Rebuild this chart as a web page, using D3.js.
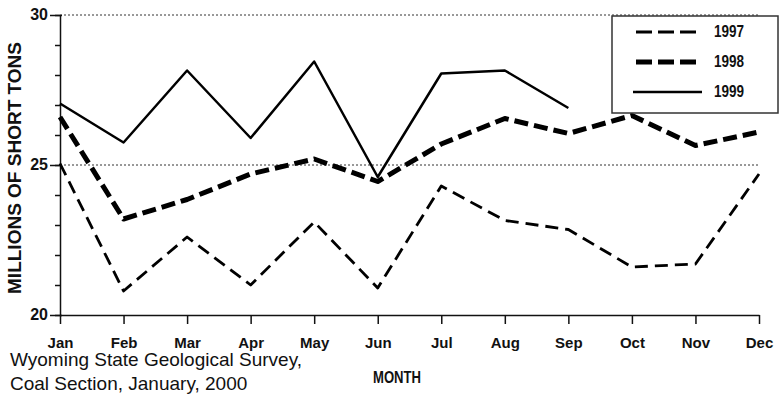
<!DOCTYPE html>
<html>
<head>
<meta charset="utf-8">
<script src="https://cdn.jsdelivr.net/npm/d3@7"></script>
<style>
	body { margin: 0; background: #fff; }
	svg { display: block; }
	.narrow { font-family: "Liberation Sans Narrow", "Arial Narrow", "Liberation Sans", Arial, sans-serif; font-weight: bold; }
</style>
</head>
<body>
<div id="chart"></div>
<script>
// coal production by month, millions of short tons
const months = ["Jan", "Feb", "Mar", "Apr", "May", "Jun", "Jul", "Aug", "Sep", "Oct", "Nov", "Dec"];
const tons_1997 = [25.05, 20.8, 22.6, 21.0, 23.1, 20.9, 24.3, 23.15, 22.85, 21.6, 21.7, 24.7];
const tons_1998 = [26.6, 23.2, 23.85, 24.7, 25.2, 24.45, 25.7, 26.55, 26.05, 26.65, 25.65, 26.1];
const tons_1999 = [27.05, 25.75, 28.15, 25.9, 28.45, 24.6, 28.05, 28.15, 26.9];
const years = ["1997", "1998", "1999"];
const y_major = [20, 25, 30];
const y_minor = d3.range(20, 31);

class coal_chart {

	constructor(opts) {
		this.element = opts.element;
		this.series = opts.series;
		this.width = 779;
		this.height = 394;
		this.styles = {
			"1997": {width: 2.8, dash: "13,7"},
			"1998": {width: 5, dash: "14,6"},
			"1999": {width: 2.5, dash: null}
		};
	}

	draw() {
		this.svg = d3.select(this.element)
						.append("svg")
						.attr("width", this.width)
						.attr("height", this.height)
						.attr("viewBox", `0 0 ${this.width} ${this.height}`);
		this.create_scales();
		this.create_grid();
		this.create_axes();
		this.create_lines();
		this.create_legend();
		this.create_labels();
	}

	create_scales() {
		this.x_scale = d3.scalePoint().domain(months).range([60, 759]);
		this.y_scale = d3.scaleLinear().domain([20, 30]).range([315, 15]);
	}

	create_grid() {
		this.svg.append("g")
				.selectAll("line")
				.data([25, 30])
				.enter()
				.append("line")
				.attr("x1", this.x_scale("Jan"))
				.attr("x2", this.x_scale("Dec"))
				.attr("y1", d => this.y_scale(d))
				.attr("y2", d => this.y_scale(d))
				.attr("stroke", "#333")
				.attr("stroke-width", 1)
				.attr("stroke-dasharray", "2,2");
	}

	create_axes() {
		// minor ticks every unit
		this.svg.append("g")
				.attr("transform", `translate(${this.x_scale("Jan")},0)`)
				.call(d3.axisLeft(this.y_scale).tickValues(y_minor).tickSize(5).tickSizeOuter(0).tickFormat(""))
				.call(g => g.selectAll("line, path").attr("stroke", "#111").attr("stroke-width", 1.5));

		this.y_axis = this.svg.append("g")
				.attr("transform", `translate(${this.x_scale("Jan")},0)`)
				.call(d3.axisLeft(this.y_scale).tickValues(y_major).tickSize(10).tickSizeOuter(0).tickPadding(2))
				.call(g => g.select(".domain").remove())
				.call(g => g.selectAll("line").attr("stroke", "#111").attr("stroke-width", 1.5).attr("x2", -10).attr("x1", 2));
		this.y_axis.selectAll("text")
				.attr("class", "narrow")
				.attr("font-family", null)
				.style("font-size", "16px")
				.attr("fill", "#111")
				.attr("dy", "0.25em");

		this.x_axis = this.svg.append("g")
				.attr("transform", `translate(0,${this.y_scale(20)})`)
				.call(d3.axisBottom(this.x_scale).tickSize(9).tickSizeOuter(0).tickPadding(13))
				.call(g => g.selectAll("line, path").attr("stroke", "#111").attr("stroke-width", 1.5));
		this.x_axis.selectAll("text")
				.attr("class", "narrow")
				.attr("font-family", null)
				.style("font-size", "15px")
				.attr("fill", "#111");
	}

	create_lines() {
		const line = d3.line()
						.x((d, i) => this.x_scale(months[i]))
						.y(d => this.y_scale(d));

		this.svg.append("g")
				.selectAll("path")
				.data(this.series)
				.enter()
				.append("path")
				.attr("d", d => line(d.values))
				.attr("fill", "none")
				.attr("stroke", "#000")
				.attr("stroke-linejoin", "round")
				.attr("stroke-width", d => this.styles[d.year].width)
				.attr("stroke-dasharray", d => this.styles[d.year].dash);
	}

	create_legend() {
		let legend = this.svg.append("g");
		legend.append("rect")
				.attr("x", 612)
				.attr("y", 16)
				.attr("width", 166)
				.attr("height", 97)
				.attr("fill", "#fff")
				.attr("stroke", "#333")
				.attr("stroke-width", 1.5);

		let rows = legend.selectAll(".row")
				.data(this.series)
				.enter()
				.append("g")
				.attr("class", "row")
				.attr("transform", (d, i) => `translate(0,${32 + i * 30})`);

		rows.append("line")
				.attr("x1", d => d.year === "1999" ? 633 : 636)
				.attr("x2", d => d.year === "1999" ? 702 : 697)
				.attr("stroke", "#000")
				.attr("stroke-width", d => this.styles[d.year].width)
				.attr("stroke-dasharray", d => this.styles[d.year].dash ? "16,6" : null);

		rows.append("text")
				.attr("class", "narrow")
				.attr("x", 714)
				.attr("y", 5)
				.attr("textLength", 30)
				.attr("lengthAdjust", "spacingAndGlyphs")
				.style("font-size", "16px")
				.attr("fill", "#111")
				.text(d => d.year);
	}

	create_labels() {
		this.svg.append("text")
				.attr("transform", "translate(21,168) rotate(-90)")
				.attr("text-anchor", "middle")
				.style("font-family", "'Liberation Sans', Arial, sans-serif")
				.style("font-weight", "bold")
				.style("font-size", "19px")
				.attr("fill", "#111")
				.text("MILLIONS OF SHORT TONS");

		this.svg.append("text")
				.attr("class", "narrow")
				.attr("x", 373)
				.attr("y", 383)
				.attr("textLength", 48)
				.attr("lengthAdjust", "spacingAndGlyphs")
				.style("font-size", "17px")
				.attr("fill", "#111")
				.text("MONTH");

		this.svg.append("g")
				.selectAll("text")
				.data(["Wyoming State Geological Survey,", "Coal Section, January, 2000"])
				.enter()
				.append("text")
				.attr("x", 10)
				.attr("y", (d, i) => 366 + i * 24)
				.style("font-family", "'Liberation Sans', Arial, sans-serif")
				.style("font-size", "19px")
				.attr("fill", "#111")
				.text(d => d);
	}
}

const chart = new coal_chart({
	element: "#chart",
	series: [
		{year: years[0], values: tons_1997},
		{year: years[1], values: tons_1998},
		{year: years[2], values: tons_1999}
	]
});
chart.draw();
</script>
</body>
</html>
